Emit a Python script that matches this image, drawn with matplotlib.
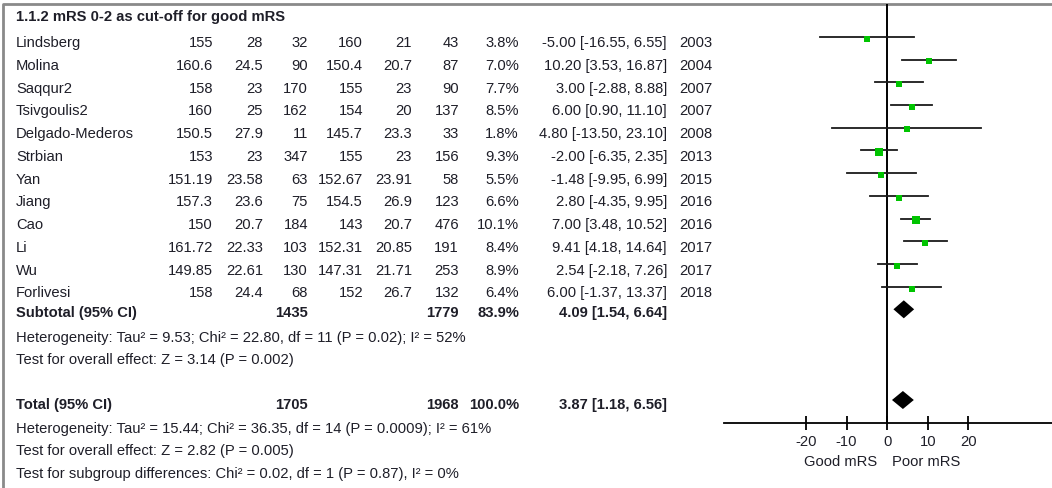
import numpy as np
import matplotlib
matplotlib.use('Agg')
import matplotlib.pyplot as plt

# Study level data for the mRS 0-2 subgroup
studies = ['Lindsberg', 'Molina', 'Saqqur2', 'Tsivgoulis2', 'Delgado-Mederos', 'Strbian',
           'Yan', 'Jiang', 'Cao', 'Li', 'Wu', 'Forlivesi']
exp_mean = [155, 160.6, 158, 160, 150.5, 153, 151.19, 157.3, 150, 161.72, 149.85, 158]
exp_sd = [28, 24.5, 23, 25, 27.9, 23, 23.58, 23.6, 20.7, 22.33, 22.61, 24.4]
exp_n = [32, 90, 170, 162, 11, 347, 63, 75, 184, 103, 130, 68]
ctl_mean = [160, 150.4, 155, 154, 145.7, 155, 152.67, 154.5, 143, 152.31, 147.31, 152]
ctl_sd = [21, 20.7, 23, 20, 23.3, 23, 23.91, 26.9, 20.7, 20.85, 21.71, 26.7]
ctl_n = [43, 87, 90, 137, 33, 156, 58, 123, 476, 191, 253, 132]
weight = [3.8, 7.0, 7.7, 8.5, 1.8, 9.3, 5.5, 6.6, 10.1, 8.4, 8.9, 6.4]
md = [-5.00, 10.20, 3.00, 6.00, 4.80, -2.00, -1.48, 2.80, 7.00, 9.41, 2.54, 6.00]
ci_lo = [-16.55, 3.53, -2.88, 0.90, -13.50, -6.35, -9.95, -4.35, 3.48, 4.18, -2.18, -1.37]
ci_hi = [6.55, 16.87, 8.88, 11.10, 23.10, 2.35, 6.99, 9.95, 10.52, 14.64, 7.26, 13.37]
years = [2003, 2004, 2007, 2007, 2008, 2013, 2015, 2016, 2016, 2017, 2017, 2018]

# Pooled estimates
sub_n = [1435, 1779]
sub_weight = 83.9
sub_md, sub_lo, sub_hi = 4.09, 1.54, 6.64
tot_n = [1705, 1968]
tot_weight = 100.0
tot_md, tot_lo, tot_hi = 3.87, 1.18, 6.56

title = '1.1.2 mRS 0-2 as cut-off for good mRS'
sub_het = 'Heterogeneity: Tau² = 9.53; Chi² = 22.80, df = 11 (P = 0.02); I² = 52%'
sub_test = 'Test for overall effect: Z = 3.14 (P = 0.002)'
tot_het = 'Heterogeneity: Tau² = 15.44; Chi² = 36.35, df = 14 (P = 0.0009); I² = 61%'
tot_test = 'Test for overall effect: Z = 2.82 (P = 0.005)'
sub_diff = 'Test for subgroup differences: Chi² = 0.02, df = 1 (P = 0.87), I² = 0%'
x_ticks = [-20, -10, 0, 10, 20]
left_label, right_label = 'Good mRS', 'Poor mRS'

plt.rcParams['font.family'] = ['Liberation Sans', 'DejaVu Sans']
txt_color = '#1e1e28'
fs = 10.6

W, H = 1052, 489
fig = plt.figure(figsize=(W / 100, H / 100), dpi=100)

# Full-figure axes in pixel units for the table text
tab = fig.add_axes([0, 0, 1, 1])
tab.set_xlim(0, W)
tab.set_ylim(H, 0)
tab.axis('off')

# Gray frame on top and left
tab.plot([3, 3, W], [H, 5, 5], color='#8a8a8a', lw=2, solid_capstyle='butt')

# Row layout
row0, row_gap = 43.3, 22.73
study_y = [row0 + i * row_gap for i in range(len(studies))]
y_title = 16.7
y_sub, y_sub_het, y_sub_test = 313.3, 338.3, 360.0
y_tot, y_tot_het, y_tot_test, y_diff = 405.0, 429.0, 451.5, 474.0
line_shift = 5.5

# Right edges of the numeric columns
col_x = [213, 263, 308, 363, 412, 459, 519, 667, 712]
name_x = 16


def put(x, y, s, ha='right', bold=False):
    tab.text(x, y, s, ha=ha, va='center', fontsize=fs, color=txt_color,
             fontweight='bold' if bold else 'normal')


put(name_x, y_title, title, ha='left', bold=True)

for i, name in enumerate(studies):
    y = study_y[i]
    put(name_x, y, name, ha='left')
    vals = [f'{exp_mean[i]:g}', f'{exp_sd[i]:g}', f'{exp_n[i]}',
            f'{ctl_mean[i]:g}', f'{ctl_sd[i]:g}', f'{ctl_n[i]}',
            f'{weight[i]:.1f}%', f'{md[i]:.2f} [{ci_lo[i]:.2f}, {ci_hi[i]:.2f}]',
            f'{years[i]}']
    for x, v in zip(col_x, vals):
        put(x, y, v)

# Subtotal block
put(name_x, y_sub, 'Subtotal (95% CI)', ha='left', bold=True)
put(col_x[2], y_sub, f'{sub_n[0]}', bold=True)
put(col_x[5], y_sub, f'{sub_n[1]}', bold=True)
put(col_x[6], y_sub, f'{sub_weight:.1f}%', bold=True)
put(col_x[7], y_sub, f'{sub_md:.2f} [{sub_lo:.2f}, {sub_hi:.2f}]', bold=True)
put(name_x, y_sub_het, sub_het, ha='left')
put(name_x, y_sub_test, sub_test, ha='left')

# Total block
put(name_x, y_tot, 'Total (95% CI)', ha='left', bold=True)
put(col_x[2], y_tot, f'{tot_n[0]}', bold=True)
put(col_x[5], y_tot, f'{tot_n[1]}', bold=True)
put(col_x[6], y_tot, f'{tot_weight:.1f}%', bold=True)
put(col_x[7], y_tot, f'{tot_md:.2f} [{tot_lo:.2f}, {tot_hi:.2f}]', bold=True)
put(name_x, y_tot_het, tot_het, ha='left')
put(name_x, y_tot_test, tot_test, ha='left')
put(name_x, y_diff, sub_diff, ha='left')

# Forest panel: x in mean-difference units, y in the same pixel rows
x_left, x_right, y_top, y_axis = 724, W, 5, 424
ax = fig.add_axes([x_left / W, (H - y_axis) / H, (x_right - x_left) / W, (y_axis - y_top) / H])
ax.set_xlim(-40.2, 40.6)
ax.set_ylim(y_axis, y_top)
ax.patch.set_alpha(0)
for side in ['top', 'left', 'right']:
    ax.spines[side].set_visible(False)
ax.spines['bottom'].set_linewidth(1.3)
ax.set_yticks([])
ax.set_xticks(x_ticks)
ax.set_xticklabels([str(t) for t in x_ticks])
ax.tick_params(axis='x', direction='inout', length=9.5, width=1.3, pad=3,
               labelsize=fs, labelcolor=txt_color)

# Line of no effect
ax.axvline(0, color='black', lw=1.4)

# Study confidence intervals and weighted squares
for i in range(len(studies)):
    y = study_y[i] - line_shift
    ax.plot([ci_lo[i], ci_hi[i]], [y, y], color='#1a1a1a', lw=1.3)
    side = (4.0 + 1.0 * np.sqrt(weight[i])) / 1.389
    ax.plot(md[i], y + 1.7, marker='s', ms=side, color='#00c400', mec='#00c400', mew=0)


# Pooled diamonds
def diamond(mid, lo, hi, y, half=9):
    ax.fill([lo, mid, hi, mid], [y, y - half, y, y + half], color='black', lw=0)


diamond(sub_md, sub_lo, sub_hi, y_sub - 3)
diamond(tot_md, tot_lo, tot_hi, y_tot - 4)

# Direction labels under the axis
tab.text(877, 462, left_label, ha='right', va='center', fontsize=fs, color=txt_color)
tab.text(892, 462, right_label, ha='left', va='center', fontsize=fs, color=txt_color)

fig.savefig('out.png', dpi=100)
